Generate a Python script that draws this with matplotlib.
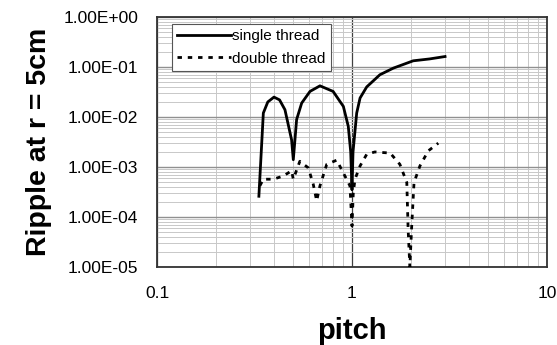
import matplotlib
matplotlib.use("Agg")
import matplotlib.pyplot as plt
from matplotlib.ticker import LogLocator, FixedLocator, FixedFormatter, NullFormatter

plt.rcParams['font.family'] = ['Liberation Sans', 'DejaVu Sans']

# single thread
single_x = [0.333, 0.351, 0.37, 0.398, 0.425, 0.453, 0.49, 0.50, 0.52, 0.552, 0.609, 0.685,
            0.80, 0.903, 0.957, 0.985, 1.0, 1.012, 1.057, 1.10, 1.19, 1.39, 1.63, 2.06, 2.5, 3.0]
single_y = [2.6e-4, 1.2e-2, 2.0e-2, 2.5e-2, 2.2e-2, 1.4e-2, 3.5e-3, 1.4e-3, 8.9e-3, 1.9e-2,
            3.25e-2, 4.2e-2, 3.25e-2, 1.63e-2, 6.5e-3, 2.0e-3, 3.5e-4, 2.0e-3, 1.2e-2, 2.4e-2,
            4.0e-2, 7.0e-2, 9.5e-2, 1.33e-1, 1.45e-1, 1.62e-1]

# double thread
double_x = [0.337, 0.351, 0.395, 0.444, 0.49, 0.50, 0.54, 0.597, 0.633, 0.659, 0.685, 0.742,
            0.835, 0.92, 0.976, 1.0, 1.015, 1.036, 1.10, 1.19, 1.31, 1.57, 1.76, 1.91, 1.94,
            1.98, 2.02, 2.08, 2.23, 2.46, 2.77]
double_y = [4.2e-4, 5.7e-4, 5.7e-4, 6.6e-4, 8.4e-4, 5.7e-4, 1.3e-3, 9.6e-4, 4.5e-4, 2.1e-4,
            4.2e-4, 1.13e-3, 1.37e-3, 6.6e-4, 4.2e-4, 6.6e-5, 3.0e-4, 5.7e-4, 1.05e-3, 1.8e-3,
            2.0e-3, 1.9e-3, 1.13e-3, 4.9e-4, 5.7e-5, 1.0e-5, 5.7e-5, 4.9e-4, 1.05e-3, 2.1e-3,
            3.0e-3]

x_ticks = [0.1, 1, 10]
x_tick_labels = ['0.1', '1', '10']
y_ticks = [1e-5, 1e-4, 1e-3, 1e-2, 1e-1, 1e0]
y_tick_labels = ['1.00E-05', '1.00E-04', '1.00E-03', '1.00E-02', '1.00E-01', '1.00E+00']

fig = plt.figure(figsize=(5.57, 3.45), dpi=100)
ax = fig.add_axes([157/557, 1 - 267/345, 390/557, 250/345])

ax.plot(single_x, single_y, color='black', lw=2.0, label='single thread', zorder=3)
ax.plot(double_x, double_y, color='black', lw=2.0, dashes=(1.6, 2.1),
        label='double thread', zorder=3)

ax.set_xscale('log')
ax.set_yscale('log')
ax.set_xlim(0.1, 10)
ax.set_ylim(1e-5, 1)

ax.xaxis.set_major_locator(FixedLocator(x_ticks))
ax.xaxis.set_major_formatter(FixedFormatter(x_tick_labels))
ax.yaxis.set_major_locator(FixedLocator(y_ticks))
ax.yaxis.set_major_formatter(FixedFormatter(y_tick_labels))
ax.xaxis.set_minor_locator(LogLocator(base=10, subs=range(2, 10)))
ax.yaxis.set_minor_locator(LogLocator(base=10, subs=range(2, 10)))
ax.xaxis.set_minor_formatter(NullFormatter())
ax.yaxis.set_minor_formatter(NullFormatter())

ax.grid(which='minor', color='#c8c8c8', lw=0.7)
ax.grid(which='major', axis='y', color='#909090', lw=1.0)
ax.grid(which='major', axis='x', color='#404040', lw=0.9)
ax.tick_params(which='both', length=0)
ax.tick_params(axis='x', labelsize=12.5, pad=14)
ax.tick_params(axis='y', labelsize=12.5, pad=13.5)
for s in ax.spines.values():
    s.set_color('#333333')
    s.set_linewidth(1.3)

ax.set_xlabel('pitch', fontsize=21, fontweight='bold', labelpad=11)
ax.set_ylabel('Ripple at r = 5cm', fontsize=20.5, fontweight='bold', labelpad=8)

leg = ax.legend(loc='upper left', bbox_to_anchor=(15/390, 1 - 7/250), fontsize=11,
                frameon=True, fancybox=False, handlelength=3.5, handletextpad=0.1,
                borderaxespad=0, borderpad=0.35, labelspacing=0.55)
leg.get_frame().set_edgecolor('#555555')
leg.get_frame().set_linewidth(0.8)
leg.get_frame().set_facecolor('white')
leg.get_frame().set_alpha(1)

fig.savefig('out.png', dpi=100)
